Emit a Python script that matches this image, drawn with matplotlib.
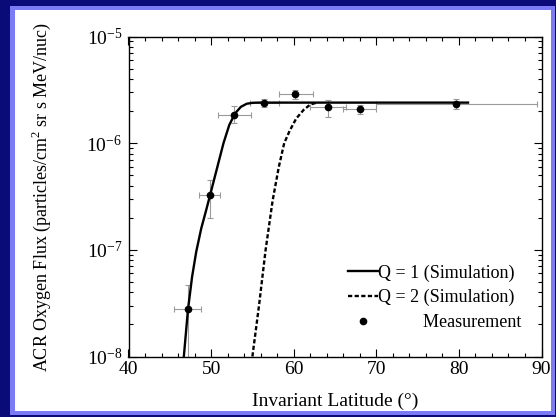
import numpy as np
import matplotlib
matplotlib.use("Agg")
import matplotlib.pyplot as plt
from matplotlib.patches import Rectangle
from matplotlib.ticker import LogLocator, MultipleLocator, NullFormatter

# ---------- DATA ----------
# Q = 1 simulation curve
q1_lat = [46.7, 47.2, 47.7, 48.2, 48.8, 49.4, 49.9, 50.7, 51.5, 52.2, 52.9, 53.6,
          54.3, 55.0, 55.7, 81.1]
q1_flux = [1.0e-8, 2.75e-8, 5.6e-8, 9.6e-8, 1.58e-7, 2.35e-7, 3.31e-7, 5.75e-7, 1.0e-6,
           1.48e-6, 1.9e-6, 2.19e-6, 2.34e-6, 2.39e-6, 2.4e-6, 2.4e-6]

# Q = 2 simulation curve
q2_lat = [55.0, 55.8, 56.6, 57.45, 58.2, 58.85, 59.5, 60.3, 61.2, 62.0, 62.8]
q2_flux = [1.0e-8, 3.0e-8, 1.0e-7, 2.9e-7, 6.0e-7, 1.0e-6, 1.3e-6, 1.7e-6, 2.05e-6, 2.3e-6, 2.4e-6]

# measurements
meas_lat = [47.2, 49.9, 52.8, 56.4, 60.2, 64.1, 68.0, 79.7]
meas_flux = [2.8e-8, 3.3e-7, 1.85e-6, 2.4e-6, 2.9e-6, 2.2e-6, 2.1e-6, 2.35e-6]
lat_lo = [45.5, 48.5, 50.8, 54.7, 58.2, 62.0, 66.0, 70.0]
lat_hi = [48.8, 51.1, 54.8, 58.2, 62.3, 66.3, 70.0, 89.5]
flux_lo = [1.0e-8, 2.0e-7, 1.55e-6, 2.16e-6, 2.59e-6, 1.76e-6, 1.86e-6, 2.1e-6]
flux_hi = [4.7e-8, 4.5e-7, 2.25e-6, 2.57e-6, 3.15e-6, 2.54e-6, 2.28e-6, 2.57e-6]

plt.rcParams["font.family"] = ["Liberation Serif", "DejaVu Serif"]
plt.rcParams["mathtext.fontset"] = "custom"
plt.rcParams["mathtext.rm"] = "Liberation Serif"

W, H = 556, 417
fig = plt.figure(figsize=(W / 100, H / 100), dpi=100, facecolor="#0a0a78")

# light blue frame + white panel (behind the axes)
fig.patches.append(Rectangle((10 / W, 2 / H), 545 / W, 409 / H, transform=fig.transFigure,
                             facecolor="#7b7bf5", edgecolor="none", zorder=-10))
fig.patches.append(Rectangle((15 / W, 6 / H), 536 / W, 401 / H, transform=fig.transFigure,
                             facecolor="white", edgecolor="none", zorder=-9))

ax = fig.add_axes([128.5 / W, 60.5 / H, 413 / W, 320 / H])
ax.set_zorder(1)

lat = np.array(meas_lat)
flux = np.array(meas_flux)
xerr = [lat - np.array(lat_lo), np.array(lat_hi) - lat]
yerr = [flux - np.array(flux_lo), np.array(flux_hi) - flux]

ax.errorbar(lat, flux, xerr=xerr, yerr=yerr, fmt="none", ecolor="#9a9a9a",
            elinewidth=0.8, capsize=2, capthick=0.8, zorder=2)
ax.plot(q1_lat, q1_flux, color="black", lw=1.7, label="Q = 1 (Simulation)", zorder=3)
ax.plot(q2_lat, q2_flux, color="black", lw=1.7, dashes=(1.8, 1.0),
        label="Q = 2 (Simulation)", zorder=3)
ax.plot(lat, flux, "o", color="black", ms=4.5, ls="none",
        label="          Measurement", zorder=4)

ax.set_yscale("log")
ax.set_xlim(40, 90)
ax.set_ylim(1e-8, 1e-5)
ax.xaxis.set_major_locator(MultipleLocator(10))
ax.xaxis.set_minor_locator(MultipleLocator(2))
ax.yaxis.set_major_locator(LogLocator(base=10))
ax.yaxis.set_minor_locator(LogLocator(base=10, subs=np.arange(2, 10)))
ax.yaxis.set_minor_formatter(NullFormatter())
ax.tick_params(which="both", direction="in", top=True, right=True, width=0.8)
ax.tick_params(which="major", length=5.5, labelsize=14)
ax.tick_params(which="minor", length=2.8)
ax.tick_params(axis="x", pad=3.5)
ax.tick_params(axis="y", pad=4.5)
for s in ax.spines.values():
    s.set_linewidth(1.0)

ax.set_xlabel("Invariant Latitude (\u00b0)", fontsize=14)
ax.xaxis.set_label_coords(0.5, -0.112)
ax.set_ylabel("ACR Oxygen Flux (particles/cm$^2$ sr s MeV/nuc)", fontsize=13)
ax.yaxis.set_label_coords(-0.183, 0.5)

ax.legend(loc="lower right", bbox_to_anchor=(0.983, 0.04), frameon=False, fontsize=13,
          handlelength=1.65, handletextpad=0.05, labelspacing=0.42, borderpad=0.2)

fig.savefig("out.png", dpi=100, facecolor=fig.get_facecolor())
